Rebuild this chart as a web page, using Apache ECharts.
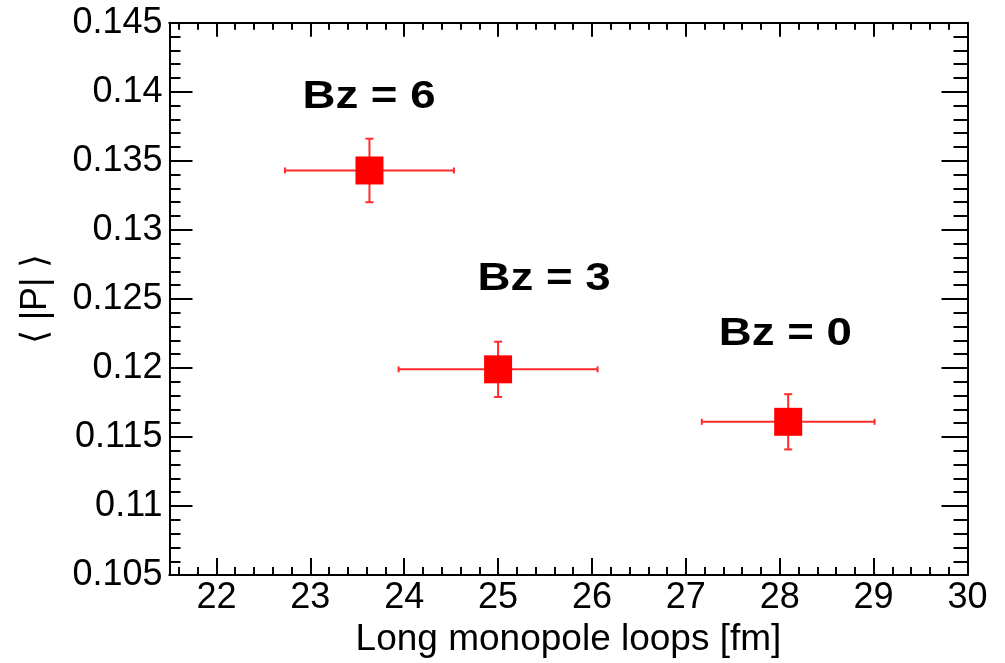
<!DOCTYPE html>
<html>
<head>
<meta charset="utf-8">
<script src="https://cdn.jsdelivr.net/npm/echarts@6/dist/echarts.min.js"></script>
<style>
  html, body { margin: 0; padding: 0; background: #fff; }
  #main { width: 1005px; height: 663px; }
</style>
</head>
<body>
<div id="main"></div>
<script>
// data
var loopLen  = [23.63, 25.00, 28.09];     // Long monopole loops [fm]
var loopErr  = [0.90, 1.06, 0.92];
var polyakov = [0.1343, 0.1199, 0.1161];  // <|P|>
var polyErr  = [0.0023, 0.0020, 0.0020];

var tagText = ['Bz = 6', 'Bz = 3', 'Bz = 0'];
var tagX    = [23.625, 25.49, 28.06];
var tagY    = [0.1396, 0.1264, 0.1224];

var xMajor = [22, 23, 24, 25, 26, 27, 28, 29, 30];
// minor ticks every 0.2 between the integers
var xMinor = [];
for (var k = 21.6; k < 30; k += 0.2) {
  var v = Math.round(k * 10) / 10;
  if (Math.abs(v - Math.round(v)) > 1e-6) xMinor.push(v);
}

var FONT = 'Liberation Sans';
var RED = '#ff0000';

var myChart = echarts.init(document.getElementById('main'));

function xAx(pos, ticks, len, extra) {
  var a = {
    type: 'value', position: pos, min: 21.5, max: 30,
    axisLine: { show: true, onZero: false, lineStyle: { color: '#000', width: 2 } },
    axisTick: { show: true, inside: true, length: len, customValues: ticks,
                lineStyle: { color: '#000', width: 2 } },
    axisLabel: { show: false },
    splitLine: { show: false }
  };
  for (var key in extra) a[key] = extra[key];
  return a;
}

function yAx(pos, len, mlen, extra) {
  var a = {
    type: 'value', position: pos, min: 0.105, max: 0.145, interval: 0.005,
    axisLine: { show: true, onZero: false, lineStyle: { color: '#000', width: 2 } },
    axisTick: { show: true, inside: true, length: len, lineStyle: { color: '#000', width: 2 } },
    minorTick: { show: true, splitNumber: 5, length: mlen, lineStyle: { color: '#000', width: 2 } },
    axisLabel: { show: false },
    splitLine: { show: false }
  };
  for (var key in extra) a[key] = extra[key];
  return a;
}

var option = {
  backgroundColor: '#fff',
  animation: false,
  grid: { left: 169.5, right: 37.5, top: 22.7, bottom: 83, containLabel: false },
  xAxis: [
    xAx('bottom', xMajor, 17, {
      name: 'Long monopole loops [fm]', nameLocation: 'middle', nameGap: 40,
      nameTextStyle: { fontFamily: FONT, fontSize: 37, color: '#000' },
      axisLabel: { show: true, customValues: xMajor, margin: 5,
                   fontFamily: FONT, fontSize: 36, color: '#000' }
    }),
    xAx('bottom', xMinor, 8, {}),
    xAx('top', xMajor, 14, {}),
    xAx('top', xMinor, 7, {})
  ],
  yAxis: [
    yAx('left', 23, 11, {
      name: '\u27E8 |P| \u27E9', nameLocation: 'middle', nameGap: 115,
      nameTextStyle: { fontFamily: FONT, fontSize: 36, color: '#000' },
      axisLabel: { show: true, margin: 7, fontFamily: FONT, fontSize: 36, color: '#000',
                   formatter: function (v) { return String(+v.toFixed(3)); } }
    }),
    yAx('right', 26, 14, {})
  ],
  series: [
    {
      type: 'custom',
      xAxisIndex: 0, yAxisIndex: 0,
      z: 2,
      data: loopLen.map(function (x, i) { return [x, polyakov[i], loopErr[i], polyErr[i]]; }),
      renderItem: function (params, api) {
        var x = api.value(0), y = api.value(1), ex = api.value(2), ey = api.value(3);
        var c = api.coord([x, y]);
        var l = api.coord([x - ex, y]), r = api.coord([x + ex, y]);
        var t = api.coord([x, y + ey]), b = api.coord([x, y - ey]);
        var st = { stroke: '#ff2b2b', lineWidth: 2 };
        return {
          type: 'group',
          children: [
            { type: 'line', shape: { x1: l[0], y1: c[1], x2: r[0], y2: c[1] }, style: st },
            { type: 'line', shape: { x1: c[0], y1: t[1], x2: c[0], y2: b[1] }, style: st },
            { type: 'line', shape: { x1: l[0], y1: c[1] - 3, x2: l[0], y2: c[1] + 3 }, style: st },
            { type: 'line', shape: { x1: r[0], y1: c[1] - 3, x2: r[0], y2: c[1] + 3 }, style: st },
            { type: 'line', shape: { x1: c[0] - 4, y1: t[1], x2: c[0] + 4, y2: t[1] }, style: st },
            { type: 'line', shape: { x1: c[0] - 4, y1: b[1], x2: c[0] + 4, y2: b[1] }, style: st }
          ]
        };
      }
    },
    {
      type: 'scatter',
      xAxisIndex: 0, yAxisIndex: 0,
      z: 3,
      symbol: 'rect', symbolSize: 28,
      itemStyle: { color: RED, opacity: 1 },
      data: loopLen.map(function (x, i) { return [x, polyakov[i]]; })
    },
    {
      // Bz tags, drawn a bit wider than the plain bold font like the original
      type: 'custom',
      xAxisIndex: 0, yAxisIndex: 0,
      z: 4,
      silent: true,
      data: tagX.map(function (x, i) { return [x, tagY[i], i]; }),
      renderItem: function (params, api) {
        var p = api.coord([api.value(0), api.value(1)]);
        return {
          type: 'text',
          x: p[0], y: p[1],
          scaleX: 1.2,
          style: {
            text: tagText[api.value(2)],
            fontFamily: FONT, fontWeight: 'bold', fontSize: 38,
            fill: '#000', align: 'center', verticalAlign: 'middle'
          }
        };
      }
    }
  ]
};

myChart.setOption(option);
</script>
</body>
</html>
